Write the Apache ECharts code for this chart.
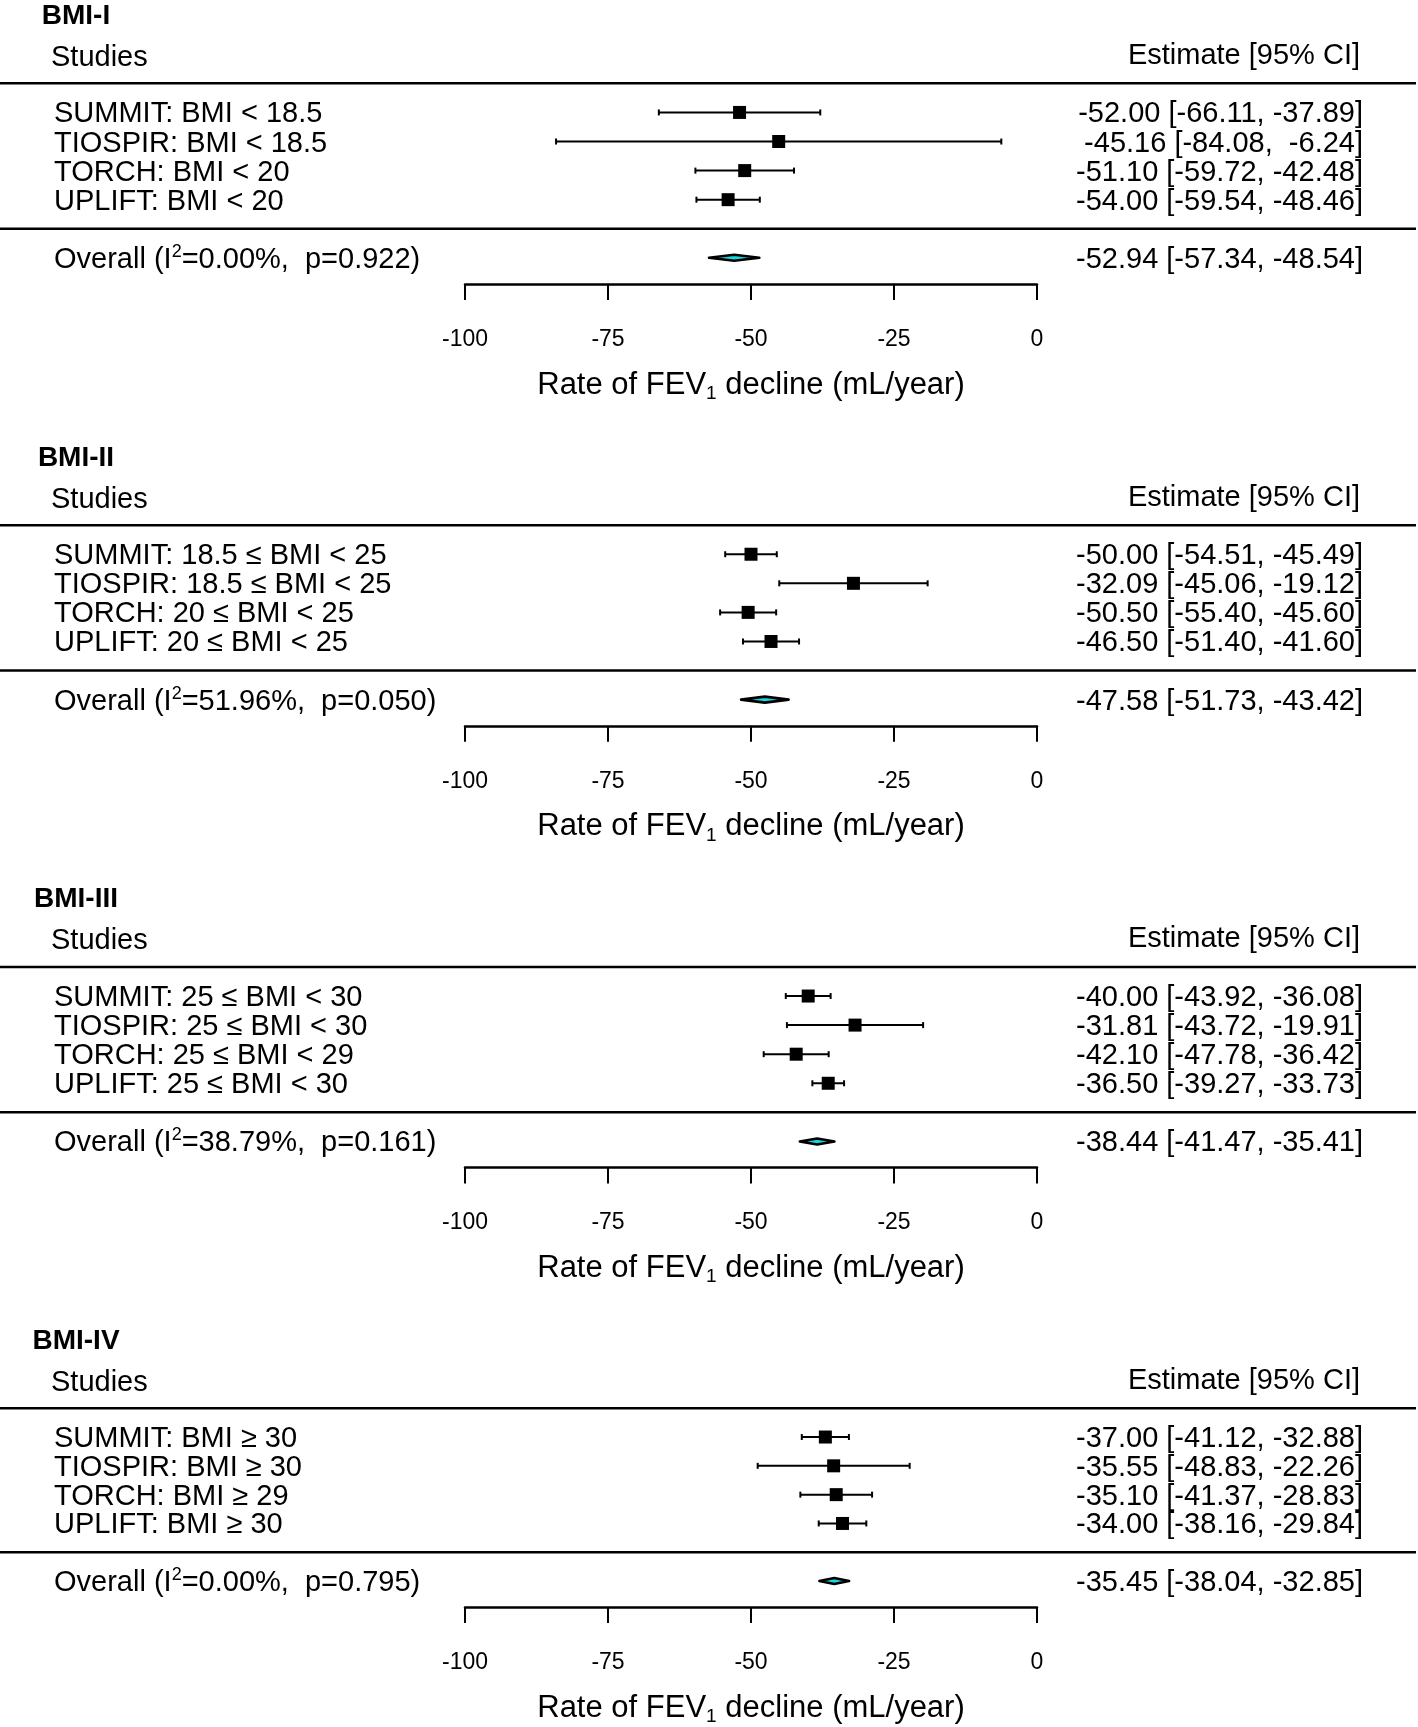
<!DOCTYPE html>
<html>
<head>
<meta charset="utf-8">
<title>BMI forest plots</title>
<script src="https://cdn.jsdelivr.net/npm/echarts@6/dist/echarts.min.js"></script>
<style>
  html, body { margin: 0; padding: 0; background: #fff; }
  #chart { width: 1418px; height: 1727px; }
</style>
</head>
<body>
<div id="chart"></div>
<script>
// panel titles and study labels
const panelTitles = ['BMI-I', 'BMI-II', 'BMI-III', 'BMI-IV'];
const labels1 = ['SUMMIT: BMI < 18.5', 'TIOSPIR: BMI < 18.5', 'TORCH: BMI < 20', 'UPLIFT: BMI < 20'];
const labels2 = ['SUMMIT: 18.5 ≤ BMI < 25', 'TIOSPIR: 18.5 ≤ BMI < 25', 'TORCH: 20 ≤ BMI < 25', 'UPLIFT: 20 ≤ BMI < 25'];
const labels3 = ['SUMMIT: 25 ≤ BMI < 30', 'TIOSPIR: 25 ≤ BMI < 30', 'TORCH: 25 ≤ BMI < 29', 'UPLIFT: 25 ≤ BMI < 30'];
const labels4 = ['SUMMIT: BMI ≥ 30', 'TIOSPIR: BMI ≥ 30', 'TORCH: BMI ≥ 29', 'UPLIFT: BMI ≥ 30'];

// estimates with 95% CI (mL/year)
const est1 = [-52.00, -45.16, -51.10, -54.00];
const lo1 = [-66.11, -84.08, -59.72, -59.54];
const hi1 = [-37.89, -6.24, -42.48, -48.46];
const est2 = [-50.00, -32.09, -50.50, -46.50];
const lo2 = [-54.51, -45.06, -55.40, -51.40];
const hi2 = [-45.49, -19.12, -45.60, -41.60];
const est3 = [-40.00, -31.81, -42.10, -36.50];
const lo3 = [-43.92, -43.72, -47.78, -39.27];
const hi3 = [-36.08, -19.91, -36.42, -33.73];
const est4 = [-37.00, -35.55, -35.10, -34.00];
const lo4 = [-41.12, -48.83, -41.37, -38.16];
const hi4 = [-32.88, -22.26, -28.83, -29.84];

// pooled estimates [est, lower, upper], heterogeneity
const overallEst = [-52.94, -47.58, -38.44, -35.45];
const overallLo = [-57.34, -51.73, -41.47, -38.04];
const overallHi = [-48.54, -43.42, -35.41, -32.85];
const i2Values = ['0.00', '51.96', '38.79', '0.00'];
const pValues = ['0.922', '0.050', '0.161', '0.795'];

const xTicks = [-100, -75, -50, -25, 0];

const FONT = 'Liberation Sans, Arial, Helvetica, sans-serif';
const panelStep = 441.8;
const TY = 2; // text baseline nudge

function fmt(v) { return v.toFixed(2); }
function pad(v) { return fmt(v).padStart(6, ' '); }
function ciText(e, l, h) { return fmt(e) + ' [' + pad(l) + ', ' + pad(h) + ']'; }

function txt(x, y, text, align, extra) {
  return {
    type: 'text', x: x, y: y + TY,
    style: Object.assign({
      text: text, fill: '#000', fontSize: 29, fontFamily: FONT,
      align: align, verticalAlign: 'middle'
    }, extra || {})
  };
}

const panels = [
  [labels1, est1, lo1, hi1],
  [labels2, est2, lo2, hi2],
  [labels3, est3, lo3, hi3],
  [labels4, est4, lo4, hi4]
];

const grids = [], xAxes = [], yAxes = [], series = [];

panels.forEach(function (pn, p) {
  const labels = pn[0], est = pn[1], lo = pn[2], hi = pn[3];
  grids.push({ left: 465, width: 572, top: 25.2 + p * panelStep, height: 258.8 });
  xAxes.push({
    gridIndex: p, type: 'value', position: 'bottom',
    min: xTicks[0], max: xTicks[xTicks.length - 1], interval: 25,
    axisLine: { onZero: false, lineStyle: { color: '#000', width: 2.5 } },
    axisTick: { length: 16, lineStyle: { color: '#000', width: 2 } },
    axisLabel: { margin: 44, fontSize: 23, color: '#000', fontFamily: FONT },
    splitLine: { show: false },
    name: 'Rate of FEV{sub|1} decline (mL/year)',
    nameLocation: 'middle', nameGap: 83,
    nameTextStyle: {
      fontSize: 31, color: '#000', fontFamily: FONT, lineHeight: 36,
      rich: { sub: { fontSize: 19, fontFamily: FONT, color: '#000', lineHeight: 19, verticalAlign: 'bottom' } }
    }
  });
  yAxes.push({ gridIndex: p, type: 'value', inverse: true, min: -2, max: 6.9, show: false });

  // title, column headers and rules
  series.push({
    type: 'custom', xAxisIndex: p, yAxisIndex: p, clip: false, silent: true,
    data: [[-100, -2.38], [-100, -0.95], [-100, 0], [-100, 5]],
    renderItem: function (params, api) {
      const y = api.coord([api.value(0), api.value(1)])[1];
      const k = params.dataIndex;
      if (k === 0) {
        return txt(76, y, panelTitles[p], 'center', { fontSize: 28, fontWeight: 'bold' });
      }
      if (k === 1) {
        return { type: 'group', children: [
          txt(51, y, 'Studies', 'left'),
          txt(1360, y - 2, 'Estimate [95% CI]', 'right')
        ] };
      }
      return { type: 'line', shape: { x1: 0, y1: y, x2: 1416, y2: y },
        style: { stroke: '#000', lineWidth: 2.5 } };
    }
  });

  // individual studies
  series.push({
    type: 'custom', xAxisIndex: p, yAxisIndex: p, clip: false, silent: true,
    encode: { x: [0, 2, 3], y: 1 },
    data: est.map(function (e, i) { return [e, i + 1, lo[i], hi[i]]; }),
    renderItem: function (params, api) {
      const i = params.dataIndex;
      const c = api.coord([api.value(0), api.value(1)]);
      const l = api.coord([api.value(2), api.value(1)]);
      const h = api.coord([api.value(3), api.value(1)]);
      const y = c[1];
      const ln = { stroke: '#000', lineWidth: 2 };
      return { type: 'group', children: [
        { type: 'line', shape: { x1: l[0], y1: y, x2: h[0], y2: y }, style: ln },
        { type: 'line', shape: { x1: l[0], y1: y - 3, x2: l[0], y2: y + 3 }, style: ln },
        { type: 'line', shape: { x1: h[0], y1: y - 3, x2: h[0], y2: y + 3 }, style: ln },
        { type: 'rect', shape: { x: c[0] - 6.5, y: y - 6.5, width: 13, height: 13 }, style: { fill: '#000' } },
        txt(54, y, labels[i], 'left'),
        txt(1363, y, ciText(est[i], lo[i], hi[i]), 'right')
      ] };
    }
  });

  // pooled estimate (diamond)
  series.push({
    type: 'custom', xAxisIndex: p, yAxisIndex: p, clip: false, silent: true,
    encode: { x: [0, 2, 3], y: 1 },
    data: [[overallEst[p], 6, overallLo[p], overallHi[p]]],
    renderItem: function (params, api) {
      const c = api.coord([api.value(0), api.value(1)]);
      const l = api.coord([api.value(2), api.value(1)]);
      const h = api.coord([api.value(3), api.value(1)]);
      const y = c[1];
      return { type: 'group', children: [
        { type: 'polygon',
          shape: { points: [[l[0], y], [c[0], y - 3], [h[0], y], [c[0], y + 3]] },
          style: { fill: '#18d6e0', stroke: '#000', lineWidth: 2.6, lineJoin: 'round' } },
        txt(54, y, 'Overall (I{sup|2}=' + i2Values[p] + '%,  p=' + pValues[p] + ')', 'left', {
          lineHeight: 34,
          rich: { sup: { fontSize: 18, fontFamily: FONT, fill: '#000', lineHeight: 16, verticalAlign: 'top' } }
        }),
        txt(1363, y, ciText(overallEst[p], overallLo[p], overallHi[p]), 'right')
      ] };
    }
  });
});

const chart = echarts.init(document.getElementById('chart'), null, { renderer: 'canvas' });
chart.setOption({
  backgroundColor: '#fff',
  animation: false,
  textStyle: { fontFamily: FONT },
  grid: grids,
  xAxis: xAxes,
  yAxis: yAxes,
  series: series
});
window.onresize = function () { chart.resize(); };
</script>
</body>
</html>
